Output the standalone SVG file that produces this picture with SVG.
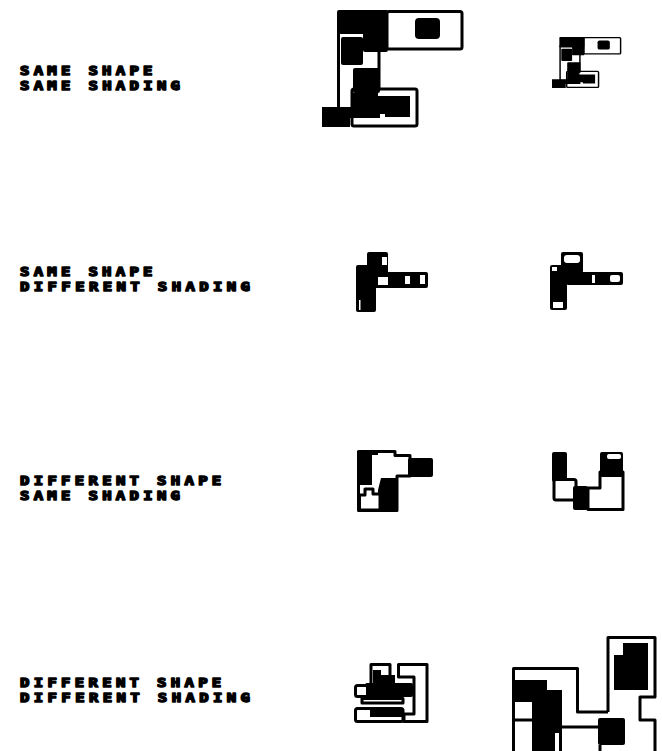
<svg xmlns="http://www.w3.org/2000/svg" xmlns:xlink="http://www.w3.org/1999/xlink" width="662" height="751" viewBox="0 0 662 751">
<style>
.t{font-family:"DejaVu Sans Mono","Liberation Mono",monospace;font-weight:bold;font-size:12.5px;fill:#000;stroke:#000;stroke-width:1.5;stroke-linejoin:round}
.o{fill:#fff;stroke:#000;stroke-width:3;stroke-linejoin:round}
.l{fill:none;stroke:#000;stroke-width:3;stroke-linejoin:round}
.b{fill:#000}
.w{fill:#fff}
</style>
<defs>
<g id="shape1">
<rect class="o" x="387" y="11.5" width="75" height="37.5" rx="2"/>
<rect class="o" x="338.5" y="30" width="40.5" height="80"/>
<rect class="o" x="352" y="89" width="65" height="37" rx="2"/>
<rect class="b" x="337" y="10" width="51" height="24" rx="2"/>
<rect class="b" x="363" y="10" width="25" height="42" rx="2"/>
<rect class="b" x="341" y="37" width="22" height="28" rx="2"/>
<rect class="b" x="353" y="68" width="27" height="25" rx="2"/>
<path class="b" d="M353,93 H378 V96 H410 V117 H385 V114 H380 V118 H353 Z"/>
<path class="b" d="M322,107 H377 V118 H350 V127 H322 Z"/>
<rect class="b" x="415" y="18" width="25" height="21" rx="4"/>
</g>
</defs>

<g id="labels">
<text class="t" transform="translate(20,75) scale(1.25,1)" textLength="106" lengthAdjust="spacing">SAME SHAPE</text>
<text class="t" transform="translate(20,90) scale(1.25,1)" textLength="128" lengthAdjust="spacing">SAME SHADING</text>
<text class="t" transform="translate(20,276) scale(1.25,1)" textLength="106" lengthAdjust="spacing">SAME SHAPE</text>
<text class="t" transform="translate(20,291) scale(1.25,1)" textLength="184" lengthAdjust="spacing">DIFFERENT SHADING</text>
<text class="t" transform="translate(20,485) scale(1.25,1)" textLength="161" lengthAdjust="spacing">DIFFERENT SHAPE</text>
<text class="t" transform="translate(20,500) scale(1.25,1)" textLength="128" lengthAdjust="spacing">SAME SHADING</text>
<text class="t" transform="translate(20,687) scale(1.25,1)" textLength="161" lengthAdjust="spacing">DIFFERENT SHAPE</text>
<text class="t" transform="translate(20,702) scale(1.25,1)" textLength="184" lengthAdjust="spacing">DIFFERENT SHADING</text>
</g>

<g id="pair1-left"><use xlink:href="#shape1"/></g>
<g id="pair1-right"><use xlink:href="#shape1" transform="translate(552,37) scale(0.49,0.435) translate(-322,-10)"/></g>

<g id="pair2-left">
<rect class="b" x="367" y="252" width="21" height="24" rx="2"/>
<rect class="b" x="356" y="265" width="20" height="47" rx="2"/>
<rect class="b" x="374" y="272" width="54" height="16" rx="2"/>
<rect class="w" x="382" y="257" width="5" height="8"/>
<rect class="w" x="378" y="277" width="10" height="8"/>
<rect class="w" x="405" y="276" width="5" height="8"/>
<rect class="w" x="420" y="275" width="5" height="9"/>
<rect class="w" x="359" y="300" width="1.5" height="10"/>
</g>

<g id="pair2-right">
<rect class="b" x="561" y="252" width="22" height="21" rx="2"/>
<rect class="w" x="564" y="255" width="16" height="8" rx="3"/>
<rect class="b" x="550" y="265" width="17" height="45" rx="2"/>
<rect class="w" x="552" y="267" width="5" height="4"/>
<rect class="w" x="553" y="302" width="10" height="6"/>
<rect class="b" x="566" y="272" width="57" height="13" rx="2"/>
<rect class="w" x="592" y="275" width="3" height="8"/>
<rect class="w" x="610" y="275" width="10" height="7" rx="2"/>
</g>

<g id="pair3-left">
<path class="o" d="M358.5,451.5 H395 V455.5 H410 V476 H397 V510.5 H358.5 Z"/>
<rect class="b" x="408" y="458" width="25" height="19" rx="2"/>
<path class="b" d="M357,451 H378 V455 H372 V485 H357 Z"/>
<path class="b" d="M381,478 H397 V511 H378 V490 Z"/>
<path class="o" d="M359.5,510 V495 H365 V489 H373 V494 H380 V510 Z"/>
</g>

<g id="pair3-right">
<rect class="b" x="552" y="452" width="15" height="30" rx="2"/>
<rect class="o" x="554" y="479.5" width="22" height="20.5" rx="2"/>
<rect class="b" x="573" y="486" width="15" height="24" rx="2"/>
<path class="o" d="M588,488 H600 V472 H623 V509.5 H588 Z"/>
<rect class="b" x="600" y="452" width="23" height="25" rx="2"/>
<rect class="w" x="607" y="454" width="14" height="5" rx="2"/>
</g>

<g id="pair4-left">
<rect class="o" x="371" y="664.5" width="19" height="22"/>
<path class="b" d="M373,670 H381 V675 H395 V687 H373 Z"/>
<path class="o" d="M398.5,664.5 H427 V721.5 H404 V714 H414 V677 H398.5 Z"/>
<rect class="b" x="365" y="683" width="48" height="14" rx="2"/>
<rect class="o" x="355.5" y="685.5" width="12" height="11" rx="2"/>
<rect class="o" x="362" y="698.5" width="41" height="4.5"/>
<rect class="o" x="355.5" y="708.5" width="47.5" height="13" rx="2"/>
<rect class="b" x="370" y="709" width="32" height="8"/>
</g>

<g id="pair4-right">
<path class="l" d="M513.5,751 V668.5 H577.5 V712 H608"/>
<path class="l" d="M513.5,720 H533"/>
<path class="o" d="M608,712 V637.5 H655 V697 H640 V720 H655 V751"/>
<path class="b" d="M623,643 H648 V690 H614 V655 H623 Z"/>
<path class="b" d="M515,680 H547 V690 H562 V751 H532 V702 H515 Z"/>
<rect class="w" x="555" y="733" width="4" height="18"/>
<path class="l" d="M562,727 H598"/>
<rect class="b" x="598" y="718" width="27" height="27" rx="2"/>
<path class="l" d="M600,745 V751"/>
</g>
</svg>
